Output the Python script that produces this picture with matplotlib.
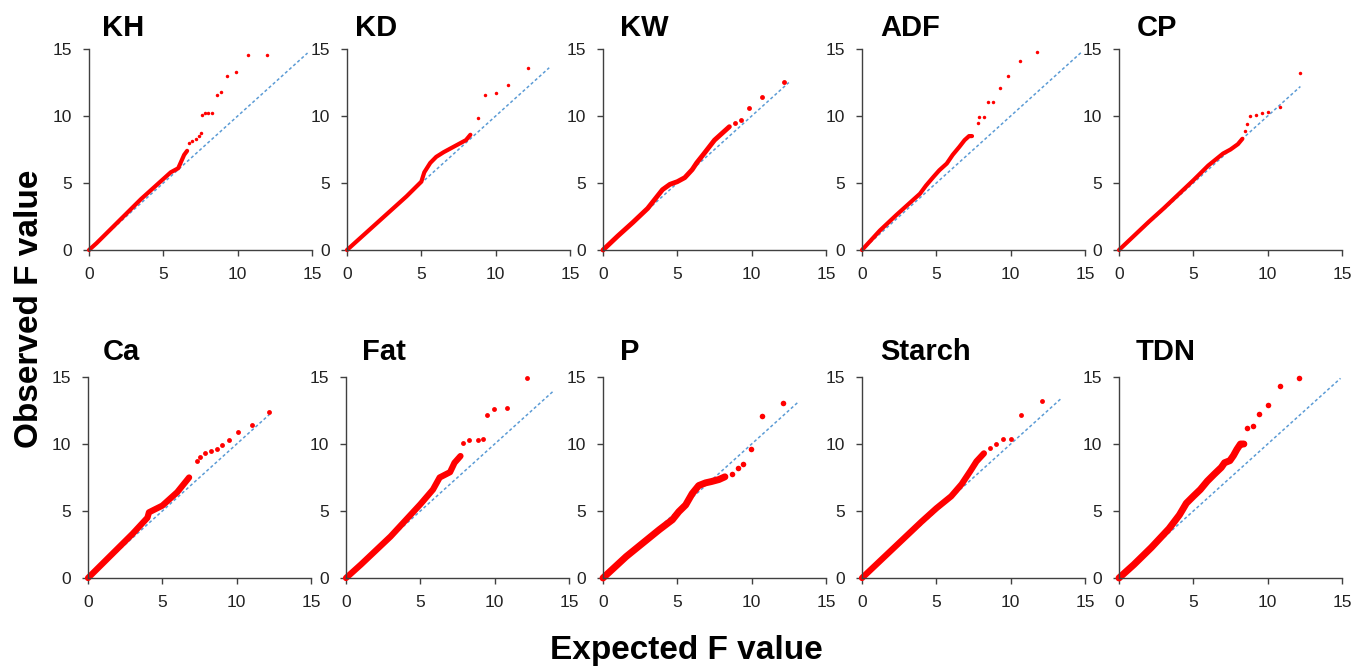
import matplotlib
matplotlib.use("Agg")
import matplotlib.pyplot as plt

plt.rcParams['font.family'] = ['Liberation Sans', 'DejaVu Sans']

# trait names (panel order: row 1 then row 2)
traits = ['KH', 'KD', 'KW', 'ADF', 'CP', 'Ca', 'Fat', 'P', 'Starch', 'TDN']

# dense part of each Q-Q curve (expected, observed)
kh_body_x = [0, 0.5, 1, 1.5, 2, 2.5, 3, 3.5, 4, 4.5, 5, 5.5, 6.0, 6.2, 6.4, 6.6]
kh_body_y = [0, 0.5, 1.05, 1.6, 2.15, 2.7, 3.25, 3.8, 4.3, 4.8, 5.3, 5.8, 6.1, 6.6, 7.1, 7.4]
kh_tail_x = [6.7, 6.9, 7.2, 7.4, 7.5, 7.6, 7.8, 8.0, 8.3, 8.6, 8.9, 9.3, 9.9, 10.7, 12.0]
kh_tail_y = [8.0, 8.1, 8.25, 8.5, 8.7, 10.1, 10.2, 10.25, 10.25, 11.6, 11.8, 12.95, 13.3, 14.55, 14.55]

kd_body_x = [0, 1, 2, 3, 4, 5, 5.2, 5.6, 6.0, 6.5, 7.0, 7.5, 8.0, 8.3]
kd_body_y = [0, 1, 2, 3, 4, 5.1, 5.8, 6.5, 6.95, 7.3, 7.6, 7.9, 8.2, 8.6]
kd_tail_x = [8.8, 9.3, 10.0, 10.8, 12.2]
kd_tail_y = [9.85, 11.6, 11.7, 12.3, 13.6]

kw_body_x = [0, 1, 2, 3, 4, 4.5, 5, 5.5, 6, 6.3, 6.8, 7.5, 8.0, 8.5]
kw_body_y = [0, 1.05, 2.05, 3.1, 4.5, 4.9, 5.1, 5.4, 6.0, 6.5, 7.2, 8.2, 8.7, 9.2]
kw_tail_x = [8.9, 9.3, 9.8, 10.7, 12.2]
kw_tail_y = [9.5, 9.7, 10.6, 11.4, 12.5]

adf_body_x = [0, 1.2, 2.3, 3.4, 3.9, 4.3, 4.8, 5.2, 5.7, 6.1, 6.55, 6.9, 7.2, 7.4]
adf_body_y = [0, 1.45, 2.6, 3.7, 4.2, 4.8, 5.45, 5.95, 6.45, 7.1, 7.7, 8.2, 8.5, 8.5]
adf_tail_x = [7.8, 7.9, 8.2, 8.5, 8.8, 9.3, 9.8, 10.6, 11.8]
adf_tail_y = [9.45, 9.9, 9.9, 11.05, 11.05, 12.1, 12.95, 14.1, 14.8]

cp_body_x = [0, 1, 2, 3, 4, 5, 6, 7, 7.5, 8.0, 8.3]
cp_body_y = [0, 1.05, 2.1, 3.1, 4.15, 5.2, 6.3, 7.2, 7.5, 7.9, 8.3]
cp_tail_x = [8.5, 8.6, 8.8, 9.2, 9.6, 10.0, 10.8, 12.2]
cp_tail_y = [8.9, 9.4, 10.0, 10.1, 10.2, 10.3, 10.7, 13.2]

ca_body_x = [0, 1, 2, 3, 4, 4.1, 5, 6, 6.8]
ca_body_y = [0, 1.1, 2.2, 3.3, 4.5, 4.9, 5.4, 6.4, 7.5]
ca_tail_x = [7.3, 7.5, 7.9, 8.3, 8.7, 9.0, 9.5, 10.1, 11.0, 12.2]
ca_tail_y = [8.7, 9.0, 9.3, 9.5, 9.6, 9.9, 10.3, 10.9, 11.4, 12.4]

fat_body_x = [0, 1, 2, 3, 4, 5, 5.85, 6.3, 6.65, 7.0, 7.3, 7.7]
fat_body_y = [0, 1.0, 2.05, 3.1, 4.3, 5.5, 6.6, 7.5, 7.7, 7.9, 8.6, 9.1]
fat_tail_x = [7.9, 8.3, 8.9, 9.2, 9.5, 9.95, 10.8, 12.2]
fat_tail_y = [10.1, 10.3, 10.3, 10.4, 12.2, 12.6, 12.7, 14.9]

p_body_x = [0, 1.56, 2.67, 3.78, 4.67, 5.1, 5.56, 6.0, 6.44, 6.9, 7.3, 7.8, 8.2]
p_body_y = [0, 1.6, 2.6, 3.6, 4.35, 4.95, 5.45, 6.3, 6.9, 7.1, 7.2, 7.35, 7.55]
p_tail_x = [8.67, 9.07, 9.4, 9.96, 10.7, 12.1]
p_tail_y = [7.75, 8.2, 8.5, 9.65, 12.1, 13.05]

starch_body_x = [0, 1, 2, 3, 4, 5, 6, 6.7, 7.3, 7.7, 8.2]
starch_body_y = [0, 1.05, 2.1, 3.15, 4.2, 5.2, 6.1, 7.0, 8.0, 8.7, 9.3]
starch_tail_x = [8.6, 9.0, 9.5, 10.0, 10.7, 12.1]
starch_tail_y = [9.7, 10.0, 10.4, 10.4, 12.2, 13.2]

tdn_body_x = [0, 1.0, 2.18, 3.36, 4.06, 4.53, 5.0, 5.47, 5.94, 6.4, 6.88, 7.1, 7.46, 7.7, 7.93, 8.17, 8.4]
tdn_body_y = [0, 1.0, 2.28, 3.68, 4.7, 5.58, 6.1, 6.6, 7.23, 7.74, 8.25, 8.6, 8.76, 9.14, 9.6, 10.0, 10.0]
tdn_tail_x = [8.64, 9.04, 9.39, 10.0, 10.8, 12.09]
tdn_tail_y = [11.17, 11.37, 12.23, 12.94, 14.34, 14.9]

# end of the dashed y = x reference line in each panel
line_end = [14.7, 13.6, 12.5, 14.8, 12.2, 12.2, 14.0, 13.1, 13.4, 14.9]

body_x = [kh_body_x, kd_body_x, kw_body_x, adf_body_x, cp_body_x,
          ca_body_x, fat_body_x, p_body_x, starch_body_x, tdn_body_x]
body_y = [kh_body_y, kd_body_y, kw_body_y, adf_body_y, cp_body_y,
          ca_body_y, fat_body_y, p_body_y, starch_body_y, tdn_body_y]
tail_x = [kh_tail_x, kd_tail_x, kw_tail_x, adf_tail_x, cp_tail_x,
          ca_tail_x, fat_tail_x, p_tail_x, starch_tail_x, tdn_tail_x]
tail_y = [kh_tail_y, kd_tail_y, kw_tail_y, adf_tail_y, cp_tail_y,
          ca_tail_y, fat_tail_y, p_tail_y, starch_tail_y, tdn_tail_y]

W, H = 1358, 671
fig = plt.figure(figsize=(W / 100, H / 100), dpi=100)

# panel placement in pixels
col_left = [[89, 347, 603, 862, 1119], [88, 346, 603, 862, 1119]]
row_bottom = [250, 578]
row_top = [49, 377]
title_dx = [13, 8, 17, 18, 18, 15, 16, 17, 18, 17]
band_w = [3.0, 3.0, 3.5, 3.0, 3.0, 4.5, 4.5, 5.0, 4.5, 5.0]
dot_s = [2.5, 2.5, 3.5, 2.5, 2.5, 3.5, 3.5, 4.0, 3.5, 4.0]

axis_col = '#404040'
for i, name in enumerate(traits):
    r, c = divmod(i, 5)
    left = col_left[r][c]
    ax = fig.add_axes([left / W, (H - row_bottom[r]) / H,
                       223 / W, (row_bottom[r] - row_top[r]) / H])
    ax.plot([0, line_end[i]], [0, line_end[i]], color='#5B9BD5',
            lw=1.1, ls=(0, (2, 1.6)), zorder=1)
    ax.plot(body_x[i], body_y[i], color='red', lw=band_w[i],
            solid_capstyle='round', solid_joinstyle='round', zorder=2, clip_on=False)
    ax.plot(tail_x[i], tail_y[i], 'o', color='red', ms=dot_s[i], mew=0,
            zorder=3, clip_on=False)
    ax.set_xlim(0, 15)
    ax.set_ylim(0, 15)
    ax.set_xticks([0, 5, 10, 15])
    ax.set_yticks([0, 5, 10, 15])
    for s in ['top', 'right']:
        ax.spines[s].set_visible(False)
    for s in ['left', 'bottom']:
        ax.spines[s].set_color(axis_col)
        ax.spines[s].set_linewidth(1.0)
    ax.tick_params(direction='out', length=4, width=1.0, color=axis_col,
                   labelsize=12.5, labelcolor='#222222', pad=8)
    ax.set_facecolor('none')
    ax.text(title_dx[i] / 223, 1 + (13 if r == 0 else 17) / (row_bottom[r] - row_top[r]), name,
            transform=ax.transAxes, fontsize=21, fontweight='bold',
            ha='left', va='baseline')

fig.text(30 / W, 1 - 309 / H, 'Observed F value', rotation=90, fontsize=24,
         fontweight='bold', ha='center', va='center')
fig.text(686 / W, 1 - 650 / H, 'Expected F value', fontsize=24,
         fontweight='bold', ha='center', va='center')

fig.savefig('out.png', dpi=100)
